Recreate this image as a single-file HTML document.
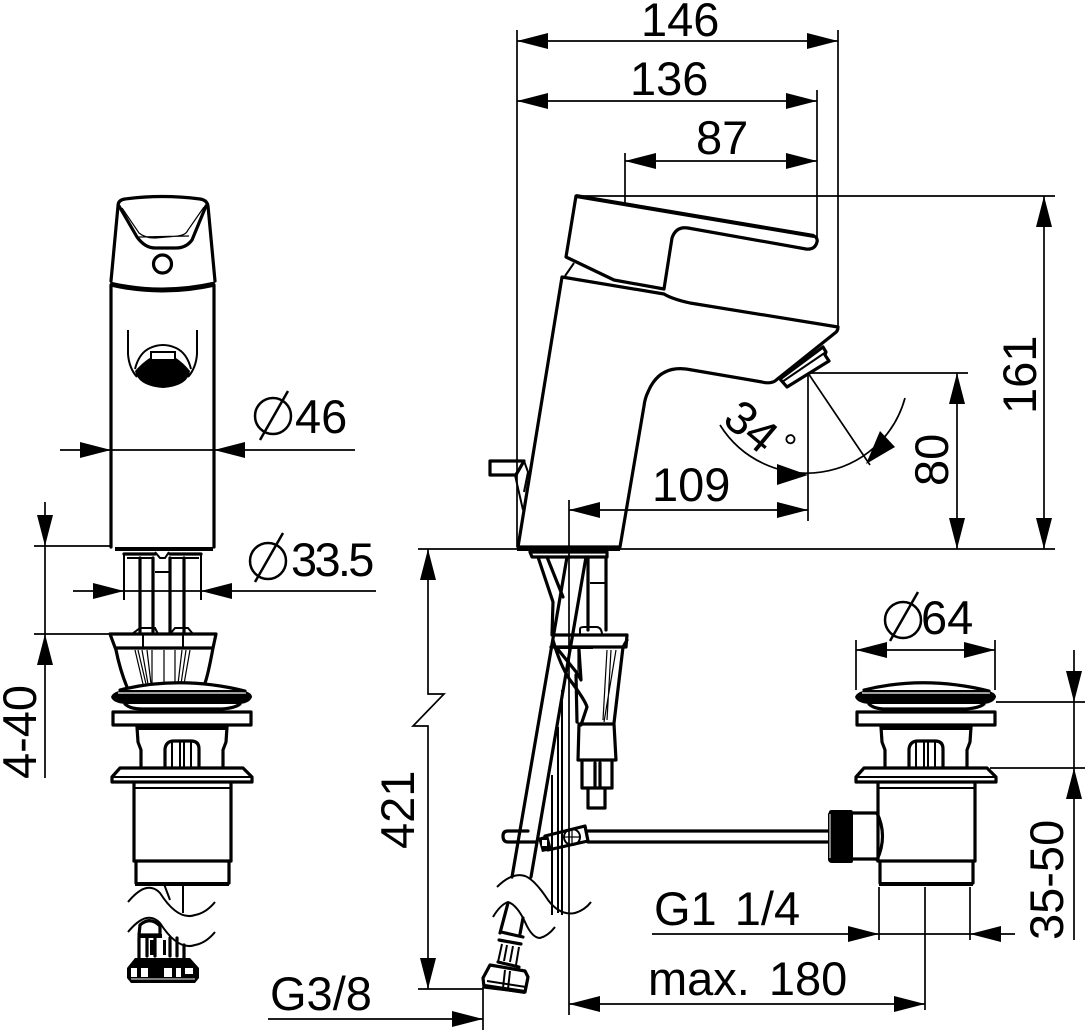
<!DOCTYPE html>
<html><head><meta charset="utf-8"><style>
html,body{margin:0;padding:0;background:#fff}
svg{display:block}
text{font-family:"Liberation Sans",sans-serif;font-size:47px;fill:#000}
.d{fill:none;stroke:#000;stroke-width:1.7}
.o{fill:none;stroke:#000;stroke-width:3.2;stroke-linejoin:round;stroke-linecap:round}
.m{fill:none;stroke:#000;stroke-width:2}
.t{fill:none;stroke:#000;stroke-width:1.2}
</style></head><body>
<svg width="1085" height="1031" viewBox="0 0 1085 1031" xmlns="http://www.w3.org/2000/svg">
<defs>
<g id="pop">
<path d="M111 697Q113 691 125 690L240 690Q252 692 252 697Q250 703 240 704L125 704Q113 703 111 697Z" fill="#000"/>
<path d="M118 693L246 693" stroke="#fff" stroke-width="1.2"/>
<path class="o" d="M120 690Q180 675 245 691M125 704Q130 709 142 709L222 709Q235 708 240 704"/>
<rect class="o" x="113" y="712" width="138" height="13"/>
<path class="o" d="M137 727L227 727M137 727L138 742L141 750L141 767M227 727L226 742L223 750L223 767"/>
<path d="M137 728H227" stroke="#000" stroke-width="4"/>
<path class="o" d="M165 767L165 749Q166 741 174 741L191 741Q199 741 199 749L199 767"/>
<path class="m" d="M172 742V767M180 741V767M184 741V767M191 742V767"/>
<path class="o" d="M112 782L112 777L120 768L243 768L252 777L252 782Z"/>
<path class="m" d="M113 777H251"/>
<path class="o" d="M134 783V861M231 783V861"/>
<path class="m" d="M134 788H231"/>
<path class="o" d="M134 861H231M136 861V883M229 861V883"/>
<path d="M135 884H229" stroke="#000" stroke-width="4"/>
</g>
</defs>
<rect width="1085" height="1031" fill="#fff"/>

<!-- LEFT VIEW -->
<path class="o" d="M111 281L118 206Q118 200 125 199Q162 194 200 199Q207 200 208 206L215 281"/>
<path d="M110 284Q162 296 215 284" fill="none" stroke="#000" stroke-width="5"/>
<path class="o" d="M111 285V547M214 285V547"/>
<path class="o" d="M119 206L137 237Q145 248 155 248L176 248Q186 248 192 240L206 206"/>
<path class="t" d="M122 208L139 233Q145 238 155 238L178 236Q186 235 188 230L204 207M139 237L189 236"/>
<circle class="o" cx="162.500" cy="264" r="9"/>
<path class="m" d="M128 330V354Q129 368 137 377M197 330V354Q196 368 188 377"/>
<path class="m" d="M135 369Q139 353 150 348Q163 342 176 348Q187 353 191 369"/>
<path d="M135 371Q150 354 163 354Q176 354 190 371Q188 386 163 388Q138 386 135 371Z" fill="#000"/>
<rect x="151" y="352" width="24" height="8" fill="#fff" stroke="#000" stroke-width="2"/>
<path d="M115 549H213" stroke="#000" stroke-width="4"/>
<path class="o" d="M124 554H155M170 554H201"/>
<path class="m" d="M127 558H152M170 558H199"/>
<path class="o" d="M140 558V632M153 558V632M170 558V632M184 558V632"/>
<path class="m" d="M124 554V600M201 554V600M155 552L160 558H165L169 552M155 572H170"/>
<path class="o" d="M110 634H216L213 648Q208 675 205 683M110 634L116 650Q120 670 127 687M116 648H212"/>
<path class="m" d="M132 634L140 628H155L158 634M170 634L175 628H188L193 634M143 634V648M183 634V648"/>
<path class="t" d="M135 650L143 684M138 650L146 684M142 650L148 684M147 650L151 684M152 650V684M164 650V684M175 650V684M182 650L178 684M186 650L181 684M190 650L184 684"/>
<use href="#pop"/>
<path d="M164 884L170 900M183 884V913" class="m"/>
<path class="m" d="M128 902Q147 879 160 893Q178 921 195 915Q206 913 215 902"/>
<path class="m" d="M128 932Q147 909 160 923Q178 951 195 945Q206 943 215 932"/>
<path class="o" d="M140 925Q150 916 160 926V935H139Z"/>
<path class="o" d="M139 937V958M184 945V958M147 938V956M155 938V956M170 938V956M177 938V956"/>
<path d="M138 934H162V938H138ZM150 940H154V955H150ZM163 940H166V955H163Z" fill="#000"/>
<path d="M135 958H190L199 968V978L195 983H131L127 978V968Z" fill="#000"/>
<path d="M131 968h6v9h-6zM141 968h7v9h-7zM164 968h8v9h-8zM176 968h5v9h-5zM185 968h8v6h-8z" fill="#fff"/>
<path d="M131 979H195" stroke="#fff" stroke-width="1"/>

<!-- RIGHT SIDE VIEW BODY -->
<path class="o" d="M576 196L814 236Q818 238 817 242Q815 250 806 249L688 228Q676 226 672 238L664 289L614 280L566 257Z"/>
<path d="M576 196L814 236" stroke="#000" stroke-width="4"/>
<path class="m" d="M574 263L565 276"/>
<path class="o" d="M562 277L664 294Q672 299 690 303L838 327Q838 331 835 333L775 381Q770 384 762 382L692 370Q660 363 648 392Q645 398 644 406L620 547H518Z"/>
<path class="o" d="M780 379L823 347L826 352L825 355L829 361L787 387Z"/>
<path class="m" d="M782 382L826 352"/>
<path class="o" d="M490 461H524L516 475H490Z"/>
<path class="m" d="M524 461L515 475L523 510M524 461L528 472L524 492"/>
<path d="M517 549H620" stroke="#000" stroke-width="4"/>
<path class="o" d="M530 552H607L607 557H532Z"/>

<!-- hoses -->
<path class="o" d="M538 557L553 602L552 635M547 557L563 597"/>
<path class="o" d="M567 557L512 877M586 557L531 877"/>
<path class="o" d="M588 557V630M606 557V630"/>
<path class="m" d="M590 583H606"/>
<path class="o" d="M553 635H627L626 647H551M627 640L623 647L614 723M553 640Q560 665 570 680Q585 700 587 707L581 725M576 675L577 722M556 647L577 673L581 680L579 650"/>
<path class="m" d="M580 635V629Q580 627 584 627H597Q602 628 602 635M555 648H593"/>
<path class="t" d="M607 650L603 720M611 650L607 720M616 650L604 722M578 648L578 675"/>
<path class="o" d="M579 724H614L616 760H578Z"/>
<path class="o" d="M582 762V788H612V762M595 763V788M600 763V788M588 788V808H605V788"/>
<path class="m" d="M552 775V915M558 727V913M562 690V915"/>
<path class="o" d="M528 831H508Q503 831 503 836Q503 842 508 842H536"/>
<path class="o" d="M588 831H828M588 842H828"/>
<path class="o" d="M545 836L585 826L588 841L548 850Z"/>
<circle class="m" cx="572" cy="837" r="8" fill="#fff"/>
<path class="t" d="M563 837H581M572 829V845"/>
<path d="M538 838L548 835L552 850L542 852Z" fill="#000"/>
<path d="M542 840H547V846H542Z" fill="#fff"/>

<path class="m" d="M497 887Q512 872 525 876Q535 880 548 900Q560 916 575 913Q585 910 591 902"/>
<path class="m" d="M493 917Q500 905 508 902Q517 905 525 922Q532 938 540 938Q548 936 555 927"/>
<path class="o" d="M508 903L500 933M523 918L520 934"/>
<path class="o" d="M501 932L523 937M499 940L521 944M498 962L519 967"/>
<path class="m" d="M502 944L498 962M519 947L516 965M507 945L504 961M513 946L510 962"/>
<path class="o" d="M490 965L525 971L528 977L525 992L484 987L483 978Z"/>
<path class="m" d="M487 981L526 987M505 970L503 988M510 971L508 989"/>
<path d="M485 986L525 992" stroke="#000" stroke-width="4"/>

<!-- RIGHT POPUP -->
<use href="#pop" x="744"/>
<path d="M829 812Q829 810 832 810H851Q853 810 853 813V861Q853 863 851 863H832Q829 863 828 860V814Z" fill="#000"/>
<path d="M830 814V858" stroke="#fff" stroke-width="1"/>
<path class="o" d="M853 813H876M853 859H877M877 813Q888 836 877 860"/>

<!-- DIMENSIONS -->
<g class="d">
<path d="M517 30V547M838 30V326M817 90V238M625 153V203"/>
<path d="M517 41H838M517 101H817M625 161H817"/>
<path d="M578 196H1055M418 549H1055M1044 196V549"/>
<path d="M808 373H968M957 373V549M808 373V521"/>
<path d="M569 500V1015M569 510H808"/>
<path d="M808 373L870 465"/>
<path d="M720 425A102 102 0 0 0 905 398"/>
<path d="M60 450H355M73 591H376"/>
<path d="M45 502V778M34 546H111M34 634H110"/>
<path d="M428 549V694H444L413 726H428V989M418 989H483M483 987V1030"/>
<path d="M268 1019H483"/>
<path d="M569 1004H925M925 887V1010"/>
<path d="M652 934H1015M879 887V940M970 887V940"/>
<path d="M856 640V690M995 640V690M856 650H995"/>
<path d="M1074 650V940M996 702H1085M990 768H1085"/>
</g>
<g fill="#000">
<path d="M517 41L548 33V49ZM838 41L807 33V49Z"/>
<path d="M517 101L548 93V109ZM817 101L786 93V109Z"/>
<path d="M625 161L656 153V169ZM817 161L786 153V169Z"/>
<path d="M1044 196L1036 227H1052ZM1044 549L1036 518H1052Z"/>
<path d="M957 373L949 404H965ZM957 549L949 518H965Z"/>
<path d="M569 510L600 502V518ZM808 510L777 502V518Z"/>
<path d="M808 475L777 464V485Z"/>
<path d="M866 464L880 431L895 447Z"/>
<path d="M111 450L80 442V458ZM214 450L245 442V458Z"/>
<path d="M124 591L93 583V599ZM201 591L232 583V599Z"/>
<path d="M45 546L37 515H53ZM45 634L37 665H53Z"/>
<path d="M428 549L420 580H436ZM428 989L420 958H436Z"/>
<path d="M483 1019L452 1011V1027Z"/>
<path d="M569 1004L600 996V1012ZM925 1004L894 996V1012Z" />
<path d="M879 934L848 926V942ZM970 934L1001 926V942Z"/>
<path d="M856 650L887 642V658ZM995 650L964 642V658Z"/>
<path d="M1074 702L1066 671H1082ZM1074 768L1066 799H1082Z"/>
</g>
<g fill="none" stroke="#000" stroke-width="2.500">
<circle cx="273" cy="416" r="18"/><path d="M260 440L288 391"/>
<circle cx="268" cy="561" r="18"/><path d="M255 582L283 533"/>
<circle cx="903" cy="620" r="18"/><path d="M890 641L918 592"/>
</g>

<text x="641" y="36">146</text>
<text x="630" y="95">136</text>
<text x="696" y="154">87</text>
<text x="652" y="501">109</text>
<text x="295" y="433">46</text>
<text x="291" y="576" letter-spacing="-2.700">33.5</text>
<text x="921" y="634">64</text>
<text x="270" y="1010">G3/8</text>
<text x="654" y="925" word-spacing="5">G1 1/4</text>
<text x="648" y="995" word-spacing="6">max. 180</text>
<text transform="translate(1036,414) rotate(-90)">161</text>
<text transform="translate(948,486) rotate(-90)">80</text>
<text transform="translate(414,849) rotate(-90)">421</text>
<text transform="translate(36,779) rotate(-90)">4-40</text>
<text transform="translate(1063,940) rotate(-90)">35-50</text>
<text transform="translate(721,422) rotate(40)">34</text>
<text transform="translate(772,450) rotate(40)" style="font-size:36px">°</text>
</svg>
</body></html>
